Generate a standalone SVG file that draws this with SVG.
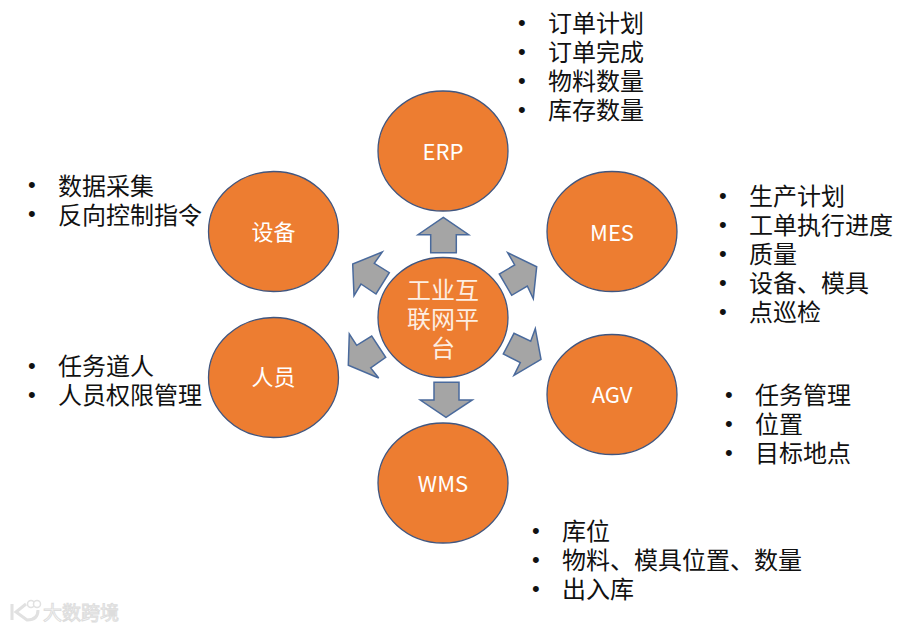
<svg xmlns="http://www.w3.org/2000/svg" width="904" height="630" viewBox="0 0 904 630">
<style>
text{font-family:"Noto Sans CJK SC","Noto Sans",sans-serif}
.c{fill:#ed7d31;stroke:#41567f;stroke-width:1.3}
.a{fill:#a5a5a5;stroke:#4a6a9c;stroke-width:1.5}
.n{font-size:22px;fill:#fff;text-anchor:middle}
.h{font-size:24px;fill:#fdeee2;text-anchor:middle}
.l{font-size:24px;fill:#111}
.b{font-size:22px;fill:#111;font-family:"Liberation Sans",sans-serif}
</style>
<rect width="904" height="630" fill="#fff"/>
<g id="connectors">
<polygon class="a" points="443.3,217.3 468.7,234.7 456.3,234.7 456.3,252.7 430.7,252.7 430.7,234.7 418,234.7"/>
<polygon class="a" points="434,382.3 459,382.3 459,400 472.3,400 446,417.3 420.3,400 434,400"/>
<polygon class="a" points="382.3,252 352.7,264 354,295.7 361,284 376,294 389.3,272.7 374.3,263.3"/>
<polygon class="a" points="507.7,252.7 536.7,266.7 533.3,298.7 527.3,286 511.7,295.3 499.3,274 514.7,265"/>
<polygon class="a" points="535.3,328.7 541,359.3 514,375.3 520.3,362.7 503.3,354 514,333.3 530.7,341.3"/>
<polygon class="a" points="349.3,334 348.3,365.3 378.7,378 370.7,368 385.7,357.3 371.7,336 356.7,345.3"/>
</g>
<g id="node-platform"><ellipse class="c" cx="443" cy="317.5" rx="65" ry="60"/>
<text class="h" x="443" y="299">工业互</text><text class="h" x="443" y="328">联网平</text><text class="h" x="443" y="357">台</text></g>
<g id="node-erp"><ellipse class="c" cx="443" cy="151" rx="65" ry="60"/><text class="n" x="443" y="160">ERP</text></g>
<g id="node-mes"><ellipse class="c" cx="612" cy="231.5" rx="65" ry="60"/><text class="n" x="612" y="241">MES</text></g>
<g id="node-agv"><ellipse class="c" cx="612" cy="394.5" rx="65" ry="60"/><text class="n" x="612" y="403">AGV</text></g>
<g id="node-wms"><ellipse class="c" cx="443" cy="483" rx="65" ry="60"/><text class="n" x="443" y="492">WMS</text></g>
<g id="node-person"><ellipse class="c" cx="273.5" cy="377.5" rx="65" ry="60"/><text class="n" x="273.5" y="385">人员</text></g>
<g id="node-device"><ellipse class="c" cx="273.5" cy="231.5" rx="65" ry="60"/><text class="n" x="273.5" y="240">设备</text></g>
<g id="list-erp">
<text class="b" x="518" y="30">•</text><text class="l" x="548" y="32">订单计划</text>
<text class="b" x="518" y="59">•</text><text class="l" x="548" y="61">订单完成</text>
<text class="b" x="518" y="88">•</text><text class="l" x="548" y="90">物料数量</text>
<text class="b" x="518" y="117">•</text><text class="l" x="548" y="119">库存数量</text>
</g>
<g id="list-mes">
<text class="b" x="719" y="203">•</text><text class="l" x="749" y="205">生产计划</text>
<text class="b" x="719" y="232">•</text><text class="l" x="749" y="234">工单执行进度</text>
<text class="b" x="719" y="261">•</text><text class="l" x="749" y="263">质量</text>
<text class="b" x="719" y="290">•</text><text class="l" x="749" y="292">设备、模具</text>
<text class="b" x="719" y="319">•</text><text class="l" x="749" y="321">点巡检</text>
</g>
<g id="list-agv">
<text class="b" x="725" y="402">•</text><text class="l" x="755" y="404">任务管理</text>
<text class="b" x="725" y="431">•</text><text class="l" x="755" y="433">位置</text>
<text class="b" x="725" y="460">•</text><text class="l" x="755" y="462">目标地点</text>
</g>
<g id="list-wms">
<text class="b" x="532" y="538">•</text><text class="l" x="562" y="540">库位</text>
<text class="b" x="532" y="567">•</text><text class="l" x="562" y="569">物料、模具位置、数量</text>
<text class="b" x="532" y="596">•</text><text class="l" x="562" y="598">出入库</text>
</g>
<g id="list-person">
<text class="b" x="28" y="373">•</text><text class="l" x="58" y="375">任务道人</text>
<text class="b" x="28" y="402">•</text><text class="l" x="58" y="404">人员权限管理</text>
</g>
<g id="list-device">
<text class="b" x="28" y="192">•</text><text class="l" x="58" y="195">数据采集</text>
<text class="b" x="28" y="221">•</text><text class="l" x="58" y="224">反向控制指令</text>
</g>
<g id="watermark" opacity="0.85">
<path d="M12 604V620M26 604L16 612L27 620Q38 620 38 610" fill="none" stroke="#dcdcdc" stroke-width="3"/>
<circle cx="31" cy="604" r="3.5" fill="#fff" stroke="#dcdcdc" stroke-width="1.5"/><circle cx="37" cy="604" r="3.5" fill="#fff" stroke="#dcdcdc" stroke-width="1.5"/>
<text x="43" y="620" font-size="19" fill="#fff" stroke="#d8d8d8" stroke-width="1">大数跨境</text>
</g>
</svg>
